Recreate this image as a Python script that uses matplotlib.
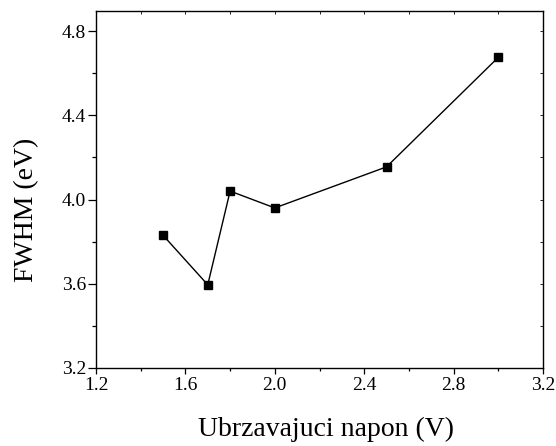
import matplotlib
matplotlib.use("Agg")
import matplotlib.pyplot as plt
from matplotlib.lines import TICKDOWN, TICKLEFT
from matplotlib.ticker import MultipleLocator

plt.rcParams.update({
    "font.family": "Liberation Serif",
    "font.size": 14,
})

# data
napon = [1.5, 1.7, 1.8, 2.0, 2.5, 3.0]
fwhm = [3.83, 3.595, 4.04, 3.96, 4.155, 4.675]

fig = plt.figure(figsize=(5.56, 4.46), dpi=100)
ax = fig.add_axes([0.1727, 0.1749, 0.8039, 0.8004])

ax.plot(napon, fwhm, "-", color="black", lw=1.0,
        marker="s", ms=6, mfc="black", mec="black")

ax.set_xlim(1.2, 3.2)
ax.set_ylim(3.2, 4.895)
ax.xaxis.set_major_locator(MultipleLocator(0.4))
ax.xaxis.set_minor_locator(MultipleLocator(0.2))
ax.yaxis.set_major_locator(MultipleLocator(0.4))
ax.yaxis.set_minor_locator(MultipleLocator(0.2))

# bottom / left: outward ticks with labels
ax.tick_params(which="both", direction="out", width=0.9, labelsize=14)
ax.tick_params(axis="x", which="major", length=4.5, pad=2)
ax.tick_params(axis="x", which="minor", length=2.5)
ax.tick_params(axis="y", which="major", length=6, pad=1)
ax.tick_params(axis="y", which="minor", length=3)
# top / right: tiny inward ticks, no labels
ax.tick_params(which="both", top=True, right=True)
for t in ax.xaxis.get_major_ticks() + ax.xaxis.get_minor_ticks():
    t.tick2line.set_marker(TICKDOWN)
    t.tick2line.set_markersize(2)
    t.tick2line.set_markeredgewidth(0.6)
for t in ax.yaxis.get_major_ticks() + ax.yaxis.get_minor_ticks():
    t.tick2line.set_marker(TICKLEFT)
    t.tick2line.set_markersize(2)
    t.tick2line.set_markeredgewidth(0.6)
for s in ax.spines.values():
    s.set_linewidth(1.0)

ax.set_xlabel("Ubrzavajuci napon (V)", fontsize=20)
ax.set_ylabel("FWHM (eV)", fontsize=20)
ax.xaxis.set_label_coords(0.515, -0.137)
ax.yaxis.set_label_coords(-0.128, 0.443)

fig.savefig("out.png", dpi=100)
